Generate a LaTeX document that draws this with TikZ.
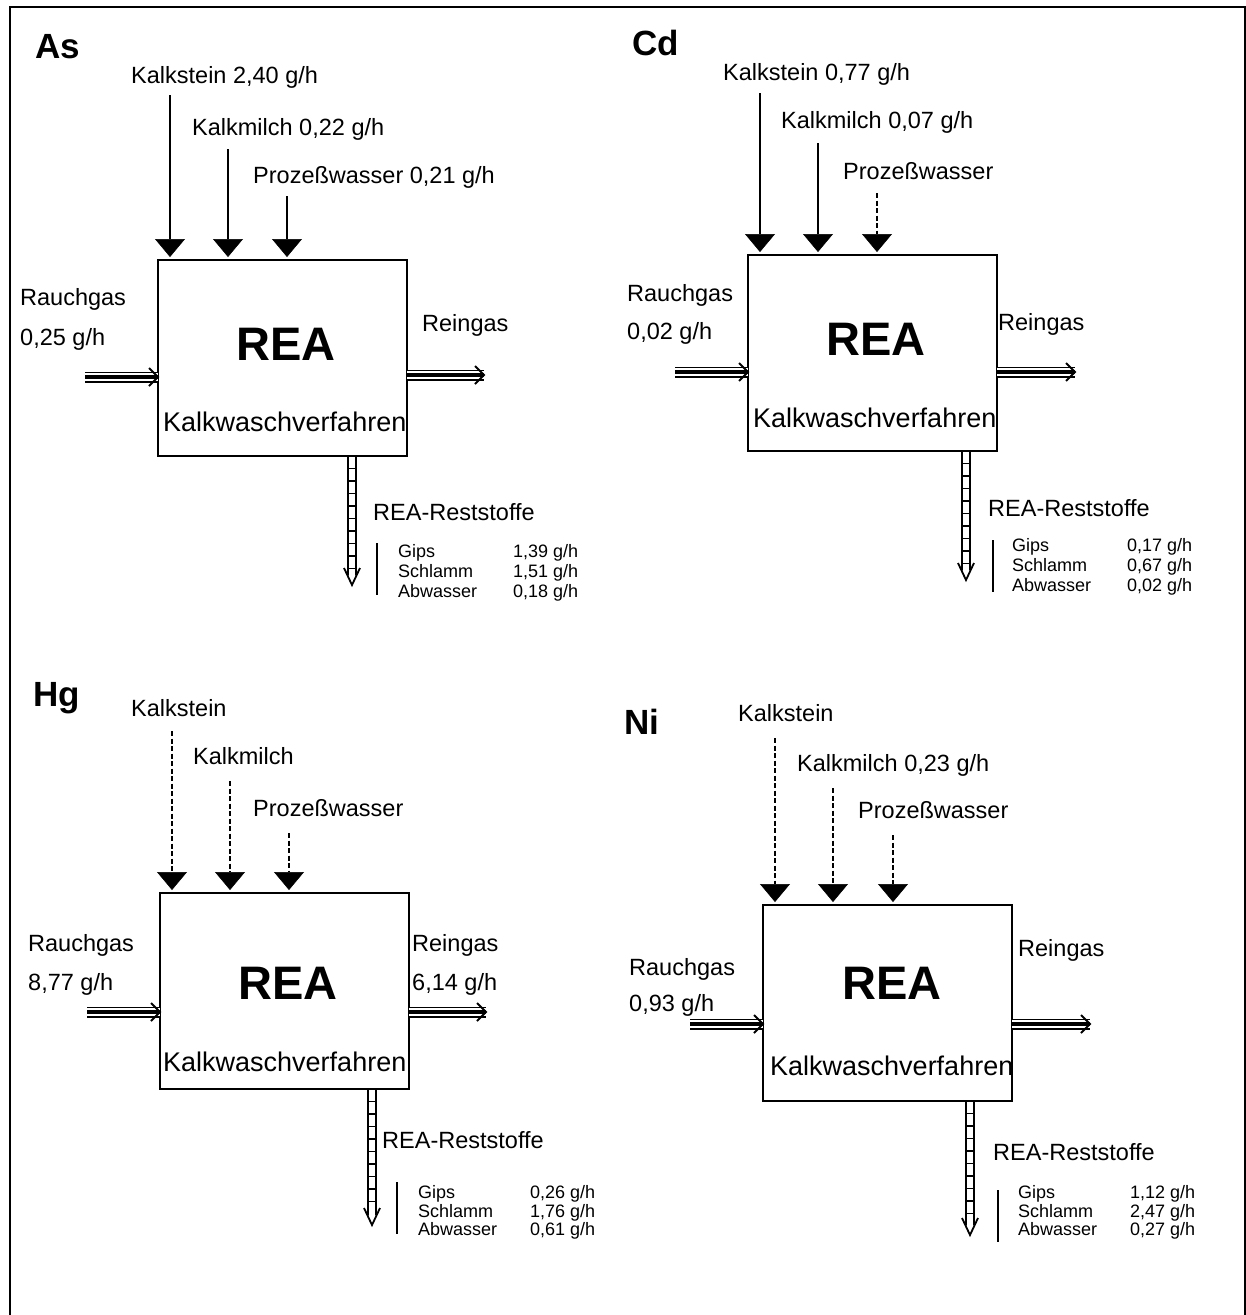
\documentclass[tikz,border=0pt]{standalone}
\usepackage{fontspec}
\setmainfont{Liberation Sans}
\usetikzlibrary{calc,arrows.meta}

\tikzset{
  x=1pt, y=-1pt,
  lbl/.style={anchor=base west, inner sep=0pt, font=\fontsize{23.5}{27}\selectfont},
  small/.style={anchor=base west, inner sep=0pt, font=\fontsize{18}{20}\selectfont},
  paneltitle/.style={anchor=base west, inner sep=0pt, font=\fontsize{35}{40}\selectfont\bfseries},
  reatext/.style={anchor=base, inner sep=0pt, font=\fontsize{47}{50}\selectfont\bfseries},
  proc/.style={anchor=base west, inner sep=0pt, font=\fontsize{27}{30}\selectfont},
  reabox/.style={draw, line width=2.5pt, anchor=north west, inner sep=0pt, outer sep=0pt,
    minimum width=249pt, minimum height=196pt},
  feed/.style={line width=2pt, -{Triangle[width=30pt,length=18pt,line width=0.5pt]}},
  feeddash/.style={feed, dash pattern=on 5pt off 2.5pt, line width=1.7pt},
  gasline/.style={line width=11pt,
    postaction={draw=white, line width=7.5pt},
    postaction={draw=black, line width=4.5pt}},
  chevron/.style={line width=2pt},
  rail/.style={line width=1.8pt},
  bar/.style={line width=1.8pt},
}

% flue gas arrow: triple line with open head
\newcommand\gasflow[2]{%
  \draw[gasline] (#1) -- (#2);
  \draw[chevron] ($(#2)+(-9,-9)$) -- (#2) -- ($(#2)+(-9,9)$);
}
% residue arrow: ladder shaft with open head; #3 = number of rungs
\newcommand\residue[3]{%
  \draw[rail] ($(#1)+(-4,0)$) -- ($(#2)+(-4,-10)$)
              ($(#1)+(4,0)$) -- ($(#2)+(4,-10)$)
              ($(#2)+(-8,-17)$) -- (#2) -- ($(#2)+(8,-17)$);
  \foreach \k in {1,...,#3}
    \draw[rail] ($(#1)+(-4,12.5*\k)$) -- ($(#1)+(4,12.5*\k)$);
}

\begin{document}
\begin{tikzpicture}
\useasboundingbox (0,0) rectangle (1246,1315);
\fill[white] (0,0) rectangle (1246,1315);
\draw[line width=2pt] (10,1330) -- (10,7) -- (1245,7) -- (1245,1330);

%% ---------------- As ----------------
\node[paneltitle] (t1) at (35,58) {As};
\node[reabox] (b1) at (158,260) {};
\node[reatext] (r1) at (286,360) {REA};
\node[proc] (p1) at (163,431) {Kalkwaschverfahren};
\node[lbl] (l1a) at (131,83) {Kalkstein 2,40 g/h};
\node[lbl] (l1b) at (192,135) {Kalkmilch 0,22 g/h};
\node[lbl] (l1c) at (253,183) {Prozeßwasser 0,21 g/h};
\coordinate (s1a) at (170,95);
\coordinate (s1b) at (228,149);
\coordinate (s1c) at (287,196);
\draw[feed] (s1a) -- ([yshift=3pt]s1a |- b1.north);
\draw[feed] (s1b) -- ([yshift=3pt]s1b |- b1.north);
\draw[feed] (s1c) -- ([yshift=3pt]s1c |- b1.north);
\node[lbl] (g1) at (20,305) {Rauchgas};
\node[lbl] (g1v) at (20,345) {0,25 g/h};
\coordinate (i1) at (85,377);
\coordinate (i1e) at (i1 -| b1.west);
\gasflow{i1}{i1e}
\node[lbl] (o1) at (422,331) {Reingas};
\coordinate (e1) at (484,375);
\coordinate (e1s) at (e1 -| b1.east);
\gasflow{e1s}{e1}
\coordinate (d1) at (352,585);
\coordinate (d1t) at (d1 |- b1.south);
\residue{d1t}{d1}{9}
\node[lbl] (rs1) at (373,520) {REA-Reststoffe};
\draw[bar] (377,543) -- (377,595);
\node[small] (a1) at (398,557) {Gips};
\node[small] (a2) at (398,577) {Schlamm};
\node[small] (a3) at (398,597) {Abwasser};
\node[small] (v1) at (513,557) {1,39 g/h};
\node[small] (v2) at (513,577) {1,51 g/h};
\node[small] (v3) at (513,597) {0,18 g/h};

%% ---------------- Cd ----------------
\node[paneltitle] (t2) at (632,55) {Cd};
\node[reabox] (b2) at (748,255) {};
\node[reatext] (r2) at (876,355) {REA};
\node[proc] (p2) at (753,427) {Kalkwaschverfahren};
\node[lbl] (l2a) at (723,80) {Kalkstein 0,77 g/h};
\node[lbl] (l2b) at (781,128) {Kalkmilch 0,07 g/h};
\node[lbl] (l2c) at (843,179) {Prozeßwasser};
\coordinate (s2a) at (760,93);
\coordinate (s2b) at (818,143);
\coordinate (s2c) at (877,193);
\draw[feed] (s2a) -- ([yshift=3pt]s2a |- b2.north);
\draw[feed] (s2b) -- ([yshift=3pt]s2b |- b2.north);
\draw[feeddash] (s2c) -- ([yshift=3pt]s2c |- b2.north);
\node[lbl] (g2) at (627,301) {Rauchgas};
\node[lbl] (g2v) at (627,339) {0,02 g/h};
\coordinate (i2) at (675,372);
\coordinate (i2e) at (i2 -| b2.west);
\gasflow{i2}{i2e}
\node[lbl] (o2) at (998,330) {Reingas};
\coordinate (e2) at (1075,372);
\coordinate (e2s) at (e2 -| b2.east);
\gasflow{e2s}{e2}
\coordinate (d2) at (966,580);
\coordinate (d2t) at (d2 |- b2.south);
\residue{d2t}{d2}{9}
\node[lbl] (rs2) at (988,516) {REA-Reststoffe};
\draw[bar] (993,540) -- (993,592);
\node[small] (c1) at (1012,551) {Gips};
\node[small] (c2) at (1012,571) {Schlamm};
\node[small] (c3) at (1012,591) {Abwasser};
\node[small] (w1) at (1127,551) {0,17 g/h};
\node[small] (w2) at (1127,571) {0,67 g/h};
\node[small] (w3) at (1127,591) {0,02 g/h};

%% ---------------- Hg ----------------
\node[paneltitle] (t3) at (33,706) {Hg};
\node[reabox] (b3) at (160,893) {};
\node[reatext] (r3) at (288,999) {REA};
\node[proc] (p3) at (163,1071) {Kalkwaschverfahren};
\node[lbl] (l3a) at (131,716) {Kalkstein};
\node[lbl] (l3b) at (193,764) {Kalkmilch};
\node[lbl] (l3c) at (253,816) {Prozeßwasser};
\coordinate (s3a) at (172,731);
\coordinate (s3b) at (230,781);
\coordinate (s3c) at (289,833);
\draw[feeddash] (s3a) -- ([yshift=3pt]s3a |- b3.north);
\draw[feeddash] (s3b) -- ([yshift=3pt]s3b |- b3.north);
\draw[feeddash] (s3c) -- ([yshift=3pt]s3c |- b3.north);
\node[lbl] (g3) at (28,951) {Rauchgas};
\node[lbl] (g3v) at (28,990) {8,77 g/h};
\coordinate (i3) at (87,1012);
\coordinate (i3e) at (i3 -| b3.west);
\gasflow{i3}{i3e}
\node[lbl] (o3) at (412,951) {Reingas};
\node[lbl] (o3v) at (412,990) {6,14 g/h};
\coordinate (e3) at (486,1012);
\coordinate (e3s) at (e3 -| b3.east);
\gasflow{e3s}{e3}
\coordinate (d3) at (372,1225);
\coordinate (d3t) at (d3 |- b3.south);
\residue{d3t}{d3}{9}
\node[lbl] (rs3) at (382,1148) {REA-Reststoffe};
\draw[bar] (397,1182) -- (397,1234);
\node[small] (h1) at (418,1198) {Gips};
\node[small] (h2) at (418,1217) {Schlamm};
\node[small] (h3) at (418,1235) {Abwasser};
\node[small] (x1) at (530,1198) {0,26 g/h};
\node[small] (x2) at (530,1217) {1,76 g/h};
\node[small] (x3) at (530,1235) {0,61 g/h};

%% ---------------- Ni ----------------
\node[paneltitle] (t4) at (624,734) {Ni};
\node[reabox] (b4) at (763,905) {};
\node[reatext] (r4) at (892,999) {REA};
\node[proc] (p4) at (770,1075) {Kalkwaschverfahren};
\node[lbl] (l4a) at (738,721) {Kalkstein};
\node[lbl] (l4b) at (797,771) {Kalkmilch 0,23 g/h};
\node[lbl] (l4c) at (858,818) {Prozeßwasser};
\coordinate (s4a) at (775,738);
\coordinate (s4b) at (833,788);
\coordinate (s4c) at (893,835);
\draw[feeddash] (s4a) -- ([yshift=3pt]s4a |- b4.north);
\draw[feeddash] (s4b) -- ([yshift=3pt]s4b |- b4.north);
\draw[feeddash] (s4c) -- ([yshift=3pt]s4c |- b4.north);
\node[lbl] (g4) at (629,975) {Rauchgas};
\node[lbl] (g4v) at (629,1011) {0,93 g/h};
\coordinate (i4) at (690,1024);
\coordinate (i4e) at (i4 -| b4.west);
\gasflow{i4}{i4e}
\node[lbl] (o4) at (1018,956) {Reingas};
\coordinate (e4) at (1090,1024);
\coordinate (e4s) at (e4 -| b4.east);
\gasflow{e4s}{e4}
\coordinate (d4) at (970,1235);
\coordinate (d4t) at (d4 |- b4.south);
\residue{d4t}{d4}{9}
\node[lbl] (rs4) at (993,1160) {REA-Reststoffe};
\draw[bar] (998,1190) -- (998,1242);
\node[small] (n1) at (1018,1198) {Gips};
\node[small] (n2) at (1018,1217) {Schlamm};
\node[small] (n3) at (1018,1235) {Abwasser};
\node[small] (y1) at (1130,1198) {1,12 g/h};
\node[small] (y2) at (1130,1217) {2,47 g/h};
\node[small] (y3) at (1130,1235) {0,27 g/h};
\end{tikzpicture}
\end{document}
